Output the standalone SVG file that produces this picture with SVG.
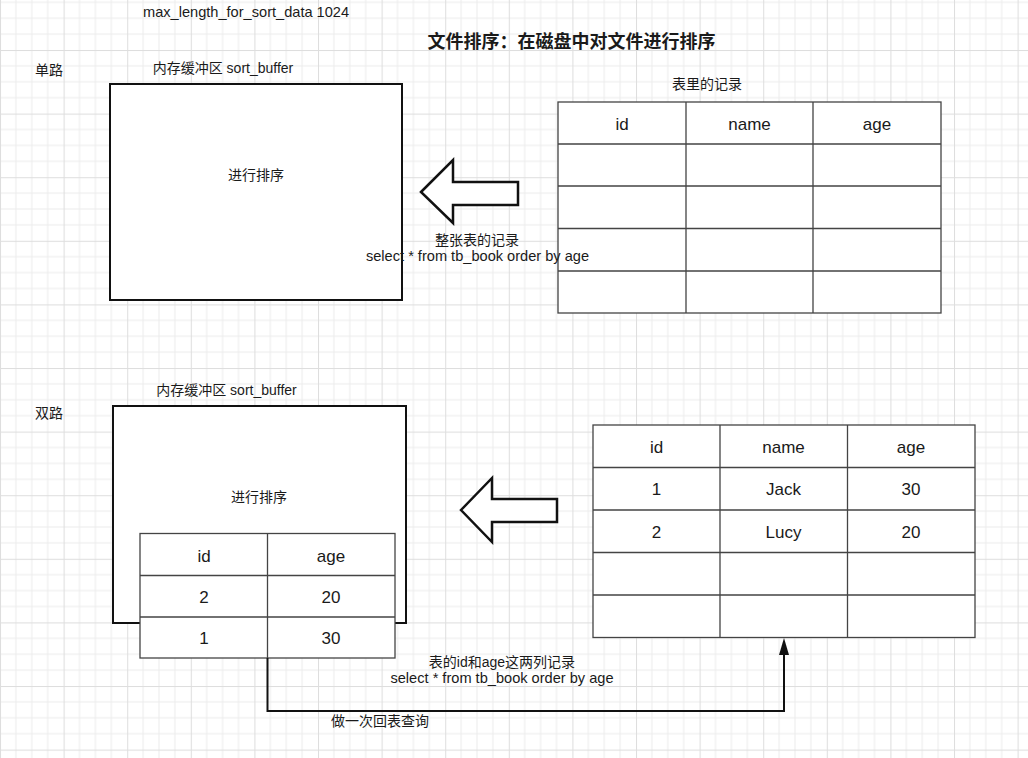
<svg xmlns="http://www.w3.org/2000/svg" width="1028" height="758" viewBox="0 0 1028 758">
  <defs>
    <pattern id="grid" patternUnits="userSpaceOnUse" x="0" y="-13.6" width="63.6" height="63.6">
      <rect x="0" y="0" width="63.6" height="63.6" fill="#ffffff"/>
      <g fill="#ececec">
        <rect x="15.4" y="0" width="1" height="63.6"/>
        <rect x="31.3" y="0" width="1" height="63.6"/>
        <rect x="47.2" y="0" width="1" height="63.6"/>
        <rect x="0" y="15.4" width="63.6" height="1"/>
        <rect x="0" y="31.3" width="63.6" height="1"/>
        <rect x="0" y="47.2" width="63.6" height="1"/>
      </g>
      <g fill="#dedede">
        <rect x="0" y="0" width="1" height="63.6"/>
        <rect x="0" y="0" width="63.6" height="1"/>
      </g>
    </pattern>
    <style>
      text { font-family: "Liberation Sans", "Noto Sans CJK SC", sans-serif; fill: #1a1a1a; }
      .lbl { font-size: 14px; }
      .lat { font-size: 14.6px; }
      .mid { text-anchor: middle; }
      .title { font-size: 18px; font-weight: bold; }
      .cell { font-size: 17px; text-anchor: middle; }
      .box { fill: #ffffff; stroke: #111; stroke-width: 2; }
      .tbl { fill: #ffffff; stroke: #444; stroke-width: 1.3; }
      .tline { stroke: #444; stroke-width: 1.3; fill: none; }
      .block { fill: #ffffff; stroke: #111; stroke-width: 2.5; stroke-linejoin: miter; }
      .conn { fill: none; stroke: #111; stroke-width: 2; }
    </style>
  </defs>
  <rect x="0" y="0" width="1028" height="758" fill="url(#grid)"/>

  <g id="header">
    <text class="lat" x="143" y="17">max_length_for_sort_data 1024</text>
    <text class="title mid" x="571.5" y="48">文件排序：在磁盘中对文件进行排序</text>
  </g>

  <g id="single-label">
    <text class="lbl" x="35" y="75">单路</text>
    <text class="lbl mid" x="223" y="73">内存缓冲区 sort_buffer</text>
  </g>

  <g id="buffer1">
    <rect class="box" x="110" y="84" width="292" height="216"/>
    <text class="lbl mid" x="256" y="180">进行排序</text>
  </g>

  <g id="table1">
    <text class="lbl mid" x="707" y="89">表里的记录</text>
    <rect class="tbl" x="558" y="102" width="383" height="211"/>
    <path class="tline" d="M686 102V313 M813 102V313 M558 144H941 M558 186H941 M558 228.5H941 M558 271H941"/>
    <text class="cell" x="622" y="130">id</text>
    <text class="cell" x="749.5" y="130">name</text>
    <text class="cell" x="877" y="130">age</text>
  </g>

  <g id="arrow1">
    <polygon class="block" points="421,192 453,160 453,182 518,182 518,205 453,205 453,223"/>
    <text class="lbl mid" x="477" y="245">整张表的记录</text>
    <text class="lat mid" x="477.5" y="261">select * from tb_book order by age</text>
  </g>

  <g id="double-label">
    <text class="lbl" x="35" y="418">双路</text>
    <text class="lbl mid" x="226.5" y="395">内存缓冲区 sort_buffer</text>
  </g>

  <g id="buffer2">
    <rect class="box" x="113" y="406" width="293" height="217"/>
    <text class="lbl mid" x="259" y="502">进行排序</text>
  </g>

  <g id="table-small">
    <rect class="tbl" x="140" y="533.5" width="255" height="124.5"/>
    <path class="tline" d="M267.5 533.5V658 M140 575.5H395 M140 617H395"/>
    <text class="cell" x="204" y="562">id</text>
    <text class="cell" x="331" y="562">age</text>
    <text class="cell" x="204" y="603">2</text>
    <text class="cell" x="331" y="603">20</text>
    <text class="cell" x="204" y="644">1</text>
    <text class="cell" x="331" y="644">30</text>
  </g>

  <g id="arrow2">
    <polygon class="block" points="461,510 492,478 492,499 557,499 557,522 492,522 492,542"/>
  </g>

  <g id="table2">
    <rect class="tbl" x="593" y="425" width="382" height="212.5"/>
    <path class="tline" d="M720 425V637.5 M847.5 425V637.5 M593 467.5H975 M593 510H975 M593 552.5H975 M593 595H975"/>
    <text class="cell" x="656.5" y="453">id</text>
    <text class="cell" x="783.5" y="453">name</text>
    <text class="cell" x="911" y="453">age</text>
    <text class="cell" x="656.5" y="495">1</text>
    <text class="cell" x="783.5" y="495">Jack</text>
    <text class="cell" x="911" y="495">30</text>
    <text class="cell" x="656.5" y="538">2</text>
    <text class="cell" x="783.5" y="538">Lucy</text>
    <text class="cell" x="911" y="538">20</text>
  </g>

  <g id="connectors">
    <path class="conn" d="M267.5 658 V711 H784 V652" />
    <path d="M784 638 L789 655 L779 655 Z" fill="#111"/>
  </g>

  <g id="connector-labels">
    <text class="lbl mid" x="502" y="667">表的id和age这两列记录</text>
    <text class="lat mid" x="502" y="683">select * from tb_book order by age</text>
    <text class="lbl mid" x="380" y="726">做一次回表查询</text>
  </g>
</svg>
